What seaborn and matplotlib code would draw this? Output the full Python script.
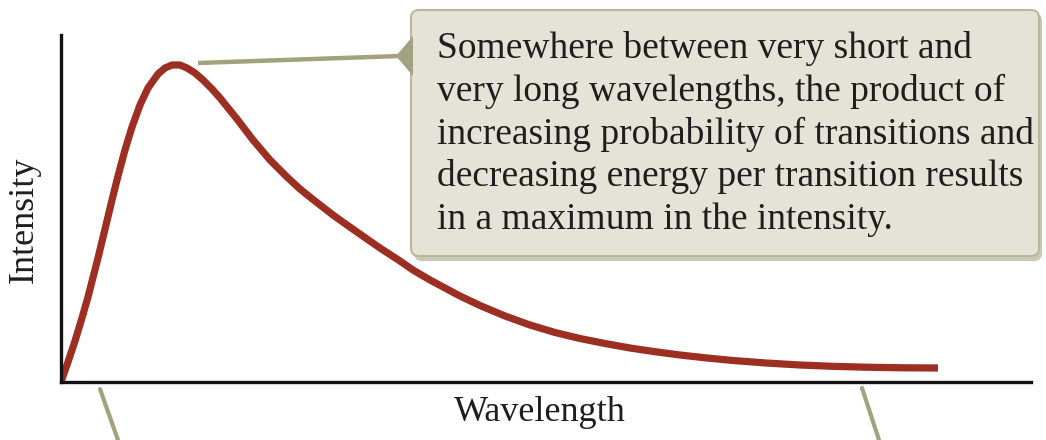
import numpy as np
import pandas as pd
import matplotlib
matplotlib.use("Agg")
import matplotlib.pyplot as plt
from matplotlib.patches import FancyBboxPatch, Polygon
import seaborn as sns

# Data (arbitrary units: wavelength axis 0..970, intensity axis 0..347)
wavelength = [0, 7, 14, 21, 27, 37, 45, 51, 57, 64, 71, 79, 87, 97, 104, 111, 119, 126,
              134, 142, 151, 159, 176, 192, 209, 226, 239, 252, 272, 286, 306, 319, 339,
              352, 369, 399, 419, 444, 469, 494, 519, 544, 569, 594, 619, 644, 672, 705,
              739, 774, 809, 843, 877]
intensity = [0, 20, 41, 64, 85, 124, 157, 182, 206, 232, 255, 277, 294, 308, 314, 317, 317, 314,
             309, 302, 293, 284, 263, 242, 222, 205, 193, 182.5, 167, 157, 143, 134, 121,
             112, 102, 86, 76.5, 66, 57, 49.5, 43.5, 38.5, 34, 30.3, 27, 24.2, 21.5, 19,
             17, 15.6, 14.7, 14.2, 14]

x_label = "Wavelength"
y_label = "Intensity"
callout_lines = [
    "Somewhere between very short and",
    "very long wavelengths, the product of",
    "increasing probability of transitions and",
    "decreasing energy per transition results",
    "in a maximum in the intensity.",
]

sns.set_style("white")
plt.rcParams['font.family'] = ['Liberation Serif', 'DejaVu Serif']

W, H = 1046, 440
fig = plt.figure(figsize=(W / 100, H / 100), dpi=100)
ax = fig.add_axes([61 / W, (H - 382) / H, 970 / W, 347 / H])

df = pd.DataFrame({"Wavelength": wavelength, "Intensity": intensity})
sns.lineplot(data=df, x="Wavelength", y="Intensity", sort=False, ax=ax,
             color="#9c2f22", lw=5.2, solid_capstyle="butt", solid_joinstyle="round")
ax.set_xlim(0, 970)
ax.set_ylim(0, 347)
ax.set_xticks([])
ax.set_yticks([])
ax.set_xlabel("")
ax.set_ylabel("")
for s in ["top", "right"]:
    ax.spines[s].set_visible(False)
for s in ["left", "bottom"]:
    ax.spines[s].set_color("#111111")
    ax.spines[s].set_linewidth(2.4)

# overlay in pixel coordinates for annotations
ov = fig.add_axes([0, 0, 1, 1], zorder=5)
ov.set_xlim(0, W)
ov.set_ylim(H, 0)
ov.axis("off")
ov.patch.set_alpha(0)

fig.text(540 / W, 1 - 412 / H, x_label, ha="center", va="center", fontsize=26, color="#1e1e1e")
fig.text(24 / W, 1 - 220 / H, y_label, ha="center", va="center", rotation=90, fontsize=26, color="#1e1e1e")

olive = "#a3a27f"
# shadow
ov.add_patch(FancyBboxPatch((414, 13), 628, 248, boxstyle="round,pad=0,rounding_size=8",
                            fc="#c9c8b4", ec="none", zorder=1))
ov.add_patch(FancyBboxPatch((411, 10), 628, 246, boxstyle="round,pad=0,rounding_size=8",
                            fc="#e4e3d7", ec="#b9b89d", lw=1.5, zorder=2))
ov.add_patch(Polygon([[413, 36], [396, 56], [413, 76]], closed=True, fc=olive, ec="none", zorder=3))
ov.plot([198, 400], [63, 56], color=olive, lw=3.2, solid_capstyle="butt", zorder=3)
ov.plot([100, 118], [389, 440], color=olive, lw=3.0, zorder=3)
ov.plot([862, 879], [388, 440], color=olive, lw=3.0, zorder=3)

for i, line in enumerate(callout_lines):
    ov.text(437, 48 + i * 43, line, ha="left", va="center", fontsize=27, color="#1e1e1e", zorder=4)

fig.savefig("out.png", dpi=100)
